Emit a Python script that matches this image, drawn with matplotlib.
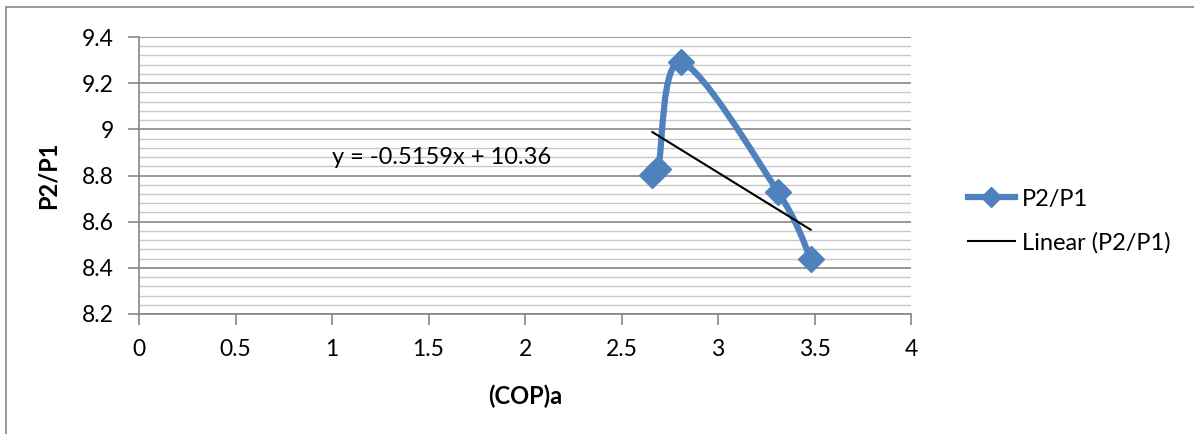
import numpy as np
import matplotlib.pyplot as plt
from matplotlib.path import Path
from matplotlib.patches import PathPatch, Rectangle
from matplotlib.lines import Line2D

plt.rcParams['font.family'] = ['Lato', 'DejaVu Sans']

# data
cop_a = [2.66, 2.69, 2.81, 3.31, 3.48]
p2_p1 = [8.80, 8.83, 9.29, 8.73, 8.44]

blue = '#4f81bd'


def smooth_path(xs, ys, t=1/6):
    # Excel-like smoothed line: Catmull-Rom turned into cubic Bezier segments
    pts = np.column_stack([xs, ys])
    verts = [pts[0]]
    codes = [Path.MOVETO]
    n = len(pts)
    for i in range(n - 1):
        p0 = pts[i - 1] if i > 0 else pts[i]
        p1 = pts[i]
        p2 = pts[i + 1]
        p3 = pts[i + 2] if i + 2 < n else pts[i + 1]
        c1 = p1 + (p2 - p0) * t
        c2 = p2 - (p3 - p1) * t
        verts += [c1, c2, p2]
        codes += [Path.CURVE4] * 3
    return Path(verts, codes)


fig = plt.figure(figsize=(11.94, 4.34), dpi=100)
ax = fig.add_axes([139 / 1194, 1 - 314 / 434, (911 - 139) / 1194, (314 - 37) / 434])

# outer chart border
fig.patches.append(Rectangle((6 / 1194, -0.1), 1.2, 1 - 7 / 434 + 0.1, transform=fig.transFigure,
                             fill=False, edgecolor='#868686', linewidth=1.2))

ax.set_xlim(0, 4)
ax.set_ylim(8.2, 9.4)
ax.set_xticks(np.arange(0, 4.01, 0.5))
ax.set_xticklabels(['0', '0.5', '1', '1.5', '2', '2.5', '3', '3.5', '4'])
ax.set_yticks(np.arange(8.2, 9.41, 0.2))
ax.set_yticklabels(['8.2', '8.4', '8.6', '8.8', '9', '9.2', '9.4'])
ax.set_yticks(np.arange(8.2, 9.41, 0.04), minor=True)

ax.grid(axis='y', which='minor', color='#c8c8c8', linewidth=1.0)
ax.grid(axis='y', which='major', color='#868686', linewidth=1.2)
ax.set_axisbelow(True)

for s in ['top', 'right']:
    ax.spines[s].set_visible(False)
for s in ['left', 'bottom']:
    ax.spines[s].set_color('#868686')
    ax.spines[s].set_linewidth(1.2)

ax.tick_params(axis='both', which='major', direction='out', length=8, width=1.2,
               color='#868686', labelsize=16.5, labelcolor='black')
ax.tick_params(axis='y', which='minor', length=0)
ax.tick_params(axis='x', pad=10)
ax.tick_params(axis='y', pad=10)

# smoothed series
ax.add_patch(PathPatch(smooth_path(cop_a, p2_p1), facecolor='none', edgecolor=blue,
                       linewidth=4.5, capstyle='round', joinstyle='round', zorder=3))
ax.plot(cop_a, p2_p1, linestyle='none', marker='D', markersize=13, color=blue, zorder=4)

# linear trendline
slope, intercept = np.polyfit(cop_a, p2_p1, 1)
xt = np.array([min(cop_a), max(cop_a)])
ax.plot(xt, slope * xt + intercept, color='black', linewidth=1.5, zorder=5)
ax.text(1.0, 8.88, 'y = -0.5159x + 10.36', fontsize=17, ha='left', va='center')

ax.set_xlabel('(COP)a', fontsize=17, fontweight='bold', labelpad=18)
ax.set_ylabel('P2/P1', fontsize=17, fontweight='bold', labelpad=16)

handles = [
    Line2D([], [], color=blue, linewidth=4.5, marker='D', markersize=10),
    Line2D([], [], color='black', linewidth=1.5),
]
fig.legend(handles, ['P2/P1', 'Linear (P2/P1)'], loc='center left',
           bbox_to_anchor=(956 / 1194, 1 - 221 / 434), frameon=False, fontsize=17,
           handlelength=2.0, labelspacing=0.95, handletextpad=0.3, borderpad=0)

fig.savefig('out.png', dpi=100)
